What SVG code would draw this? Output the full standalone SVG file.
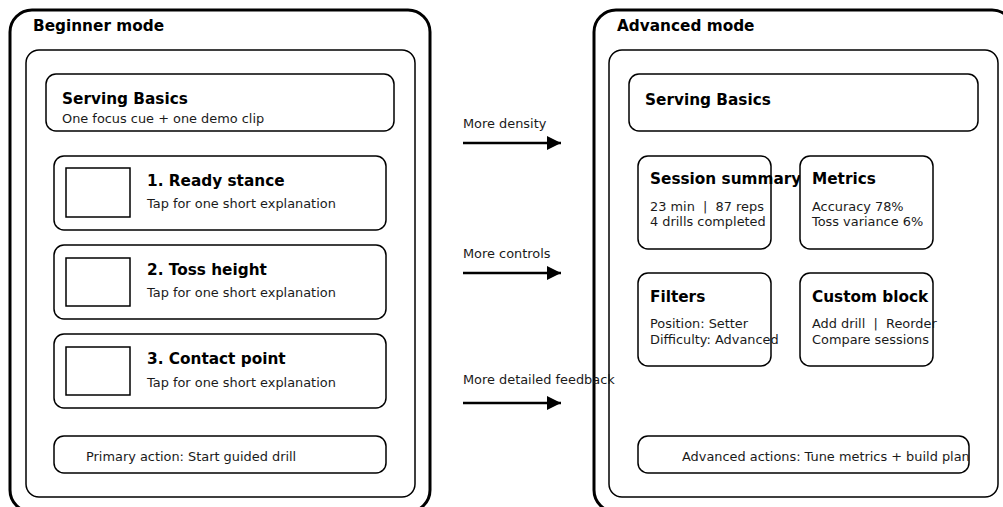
<svg xmlns="http://www.w3.org/2000/svg" width="1003" height="507" viewBox="0 0 1003 507">
<defs>
<style>
.outer{fill:#fff;stroke:#000;stroke-width:3}
.inner{fill:#fff;stroke:#000;stroke-width:1.5}
.card{fill:#fff;stroke:#000;stroke-width:1.5}
.img{fill:#fff;stroke:#000;stroke-width:1.5}
.t{font-family:"DejaVu Sans",sans-serif;font-weight:bold;font-size:15.3px;fill:#000}
.s{font-family:"DejaVu Sans",sans-serif;font-size:12.9px;fill:#1a1a1a;white-space:pre}
.conn{stroke:#000;stroke-width:2.5;fill:none}
</style>
<marker id="ah" markerWidth="14" markerHeight="14" viewBox="0 0 14 14" refX="14" refY="7" orient="auto" markerUnits="userSpaceOnUse">
<path d="M0,0 L14,7 L0,14 Z" fill="#000"/>
</marker>
</defs>
<rect width="1003" height="507" fill="#fff"/>

<g id="beginner">
<rect class="outer" x="10" y="10" width="420" height="502" rx="22"/>
<text class="t" x="33" y="31">Beginner mode</text>
<rect class="inner" x="26" y="50" width="389" height="447" rx="13"/>
</g>
<g id="b-serving">
<rect class="card" x="46" y="74" width="348" height="57" rx="10"/>
<text class="t" x="62" y="104">Serving Basics</text>
<text class="s" x="62" y="123">One focus cue + one demo clip</text>
</g>
<g id="b-step1">
<rect class="card" x="54" y="156" width="332" height="74" rx="10"/>
<rect class="img" x="66" y="168" width="64" height="49"/>
<text class="t" x="147" y="186">1. Ready stance</text>
<text class="s" x="147" y="208">Tap for one short explanation</text>
</g>
<g id="b-step2">
<rect class="card" x="54" y="245" width="332" height="74" rx="10"/>
<rect class="img" x="66" y="258" width="64" height="48"/>
<text class="t" x="147" y="275">2. Toss height</text>
<text class="s" x="147" y="297">Tap for one short explanation</text>
</g>
<g id="b-step3">
<rect class="card" x="54" y="334" width="332" height="74" rx="10"/>
<rect class="img" x="66" y="347" width="64" height="48"/>
<text class="t" x="147" y="364">3. Contact point</text>
<text class="s" x="147" y="387">Tap for one short explanation</text>
</g>
<g id="b-action">
<rect class="card" x="54" y="436" width="332" height="37" rx="10"/>
<text class="s" x="86" y="461">Primary action: Start guided drill</text>
</g>

<g id="advanced">
<rect class="outer" x="594" y="10" width="420" height="502" rx="22"/>
<text class="t" x="617" y="31">Advanced mode</text>
<rect class="inner" x="609" y="50" width="389" height="447" rx="13"/>
</g>
<g id="a-serving">
<rect class="card" x="629" y="74" width="349" height="57" rx="10"/>
<text class="t" x="645" y="105">Serving Basics</text>
</g>
<g id="a-session">
<rect class="card" x="638" y="156" width="133" height="93" rx="10"/>
<text class="t" x="650" y="184">Session summary</text>
<text class="s" x="650" y="211">23 min  |  87 reps</text>
<text class="s" x="650" y="226">4 drills completed</text>
</g>
<g id="a-metrics">
<rect class="card" x="800" y="156" width="133" height="93" rx="10"/>
<text class="t" x="812" y="184">Metrics</text>
<text class="s" x="812" y="211">Accuracy 78%</text>
<text class="s" x="812" y="226">Toss variance 6%</text>
</g>
<g id="a-filters">
<rect class="card" x="638" y="273" width="133" height="93" rx="10"/>
<text class="t" x="650" y="302">Filters</text>
<text class="s" x="650" y="328">Position: Setter</text>
<text class="s" x="650" y="344">Difficulty: Advanced</text>
</g>
<g id="a-custom">
<rect class="card" x="800" y="273" width="133" height="93" rx="10"/>
<text class="t" x="812" y="302">Custom block</text>
<text class="s" x="812" y="328">Add drill  |  Reorder</text>
<text class="s" x="812" y="344">Compare sessions</text>
</g>
<g id="a-action">
<rect class="card" x="638" y="436" width="331" height="37" rx="10"/>
<text class="s" x="682" y="461">Advanced actions: Tune metrics + build plan</text>
</g>

<g id="connectors">
<line class="conn" x1="463" y1="143" x2="561" y2="143" marker-end="url(#ah)"/>
<line class="conn" x1="463" y1="273" x2="561" y2="273" marker-end="url(#ah)"/>
<line class="conn" x1="463" y1="403" x2="561" y2="403" marker-end="url(#ah)"/>
<text class="s" x="463" y="128">More density</text>
<text class="s" x="463" y="258">More controls</text>
<text class="s" x="463" y="384">More detailed feedback</text>
</g>
</svg>
